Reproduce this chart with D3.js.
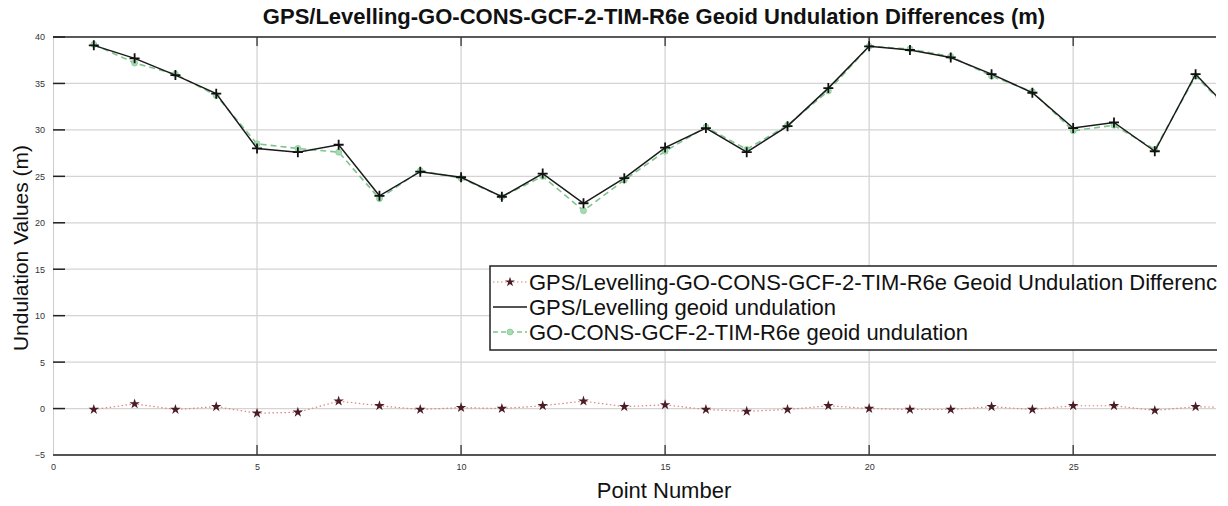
<!DOCTYPE html>
<html>
<head>
<meta charset="utf-8">
<script src="https://cdn.jsdelivr.net/npm/d3@7/dist/d3.min.js"></script>
<style>
  html, body { margin: 0; padding: 0; background: #fff; }
  svg { display: block; font-family: "Liberation Sans", Arial, sans-serif; }
</style>
</head>
<body>
<svg id="chart" width="1228" height="506"></svg>
<script>
// Point numbers along the traverse
const points = d3.range(1, 30);
// GPS/Levelling geoid undulation (m)
const gpsLevelling = [39.1, 37.7, 35.9, 33.9, 28.0, 27.6, 28.4, 22.9, 25.5, 24.9,
                      22.8, 25.3, 22.1, 24.8, 28.1, 30.2, 27.6, 30.4, 34.5, 39.0,
                      38.6, 37.8, 36.0, 34.0, 30.2, 30.8, 27.7, 36.0, 31.4];
// GO-CONS-GCF-2-TIM-R6e geoid undulation (m)
const goconsTim = [39.2, 37.2, 36.0, 33.7, 28.5, 28.0, 27.6, 22.6, 25.6, 24.8,
                   22.8, 25.0, 21.3, 24.6, 27.7, 30.3, 27.9, 30.5, 34.2, 39.0,
                   38.7, 37.9, 35.8, 34.1, 29.9, 30.5, 27.9, 35.8, 31.3];
// Differences GPS/Levelling - GO-CONS-GCF-2-TIM-R6e (m)
const differences = [-0.1, 0.5, -0.1, 0.2, -0.5, -0.4, 0.8, 0.3, -0.1, 0.1,
                     0.0, 0.3, 0.8, 0.2, 0.4, -0.1, -0.3, -0.1, 0.3, 0.0,
                     -0.1, -0.1, 0.2, -0.1, 0.3, 0.3, -0.2, 0.2, 0.1];
const xTicks = [0, 5, 10, 15, 20, 25];
const yTicks = [-5, 0, 5, 10, 15, 20, 25, 30, 35, 40];
const legendLabels = [
  "GPS/Levelling-GO-CONS-GCF-2-TIM-R6e Geoid Undulation Differences (m)",
  "GPS/Levelling geoid undulation",
  "GO-CONS-GCF-2-TIM-R6e geoid undulation"
];
const titleText = "GPS/Levelling-GO-CONS-GCF-2-TIM-R6e Geoid Undulation Differences (m)";

const svg = d3.select("#chart");
const pLeft = 53, pRight = 1216, pTop = 37, pBottom = 455;

const x = d3.scaleLinear().domain([0, 28.5]).range([pLeft, pRight]);
const y = d3.scaleLinear().domain([-5, 40]).range([pBottom, pTop]);

// everything beyond the right edge of the figure is cut away
const defs = svg.append("defs");
defs.append("clipPath").attr("id", "fig")
  .append("rect").attr("x", 0).attr("y", 0).attr("width", pRight + 1).attr("height", 506);
defs.append("clipPath").attr("id", "plot")
  .append("rect").attr("x", pLeft).attr("y", pTop - 4).attr("width", pRight - pLeft).attr("height", pBottom - pTop + 8);

const g = svg.append("g").attr("clip-path", "url(#fig)");

// grid
g.append("g").selectAll("line").data(yTicks.filter(t => t > -5 && t < 40)).join("line")
  .attr("x1", pLeft).attr("x2", pRight)
  .attr("y1", d => y(d)).attr("y2", d => y(d))
  .attr("stroke", "#d4d4d4").attr("stroke-width", 1.3);
g.append("g").selectAll("line").data(xTicks.filter(t => t > 0)).join("line")
  .attr("x1", d => x(d)).attr("x2", d => x(d))
  .attr("y1", pTop).attr("y2", pBottom)
  .attr("stroke", "#d4d4d4").attr("stroke-width", 1.3);

// axes
const yAxis = d3.axisLeft(y).tickValues(yTicks).tickSize(0).tickPadding(8);
const yg = g.append("g").attr("transform", `translate(${pLeft},0)`).call(yAxis);
yg.select(".domain").attr("stroke", "#ccc");
yg.selectAll("text").attr("font-size", 9).attr("fill", "#333");
// inward tick marks on the y axis
g.append("g").selectAll("line").data(yTicks).join("line")
  .attr("x1", pLeft).attr("x2", pLeft + 12)
  .attr("y1", d => y(d)).attr("y2", d => y(d))
  .attr("stroke", "#222").attr("stroke-width", 1.5);

const xAxis = d3.axisBottom(x).tickValues(xTicks).tickSize(0).tickPadding(9);
const xg = g.append("g").attr("transform", `translate(0,${pBottom})`).call(xAxis);
xg.select(".domain").remove();
xg.selectAll("text").attr("font-size", 9).attr("fill", "#333");
g.append("line").attr("x1", pLeft).attr("x2", pRight).attr("y1", pBottom).attr("y2", pBottom)
  .attr("stroke", "#555").attr("stroke-width", 2.2);
g.append("line").attr("x1", pLeft).attr("x2", pRight).attr("y1", pTop).attr("y2", pTop)
  .attr("stroke", "#222").attr("stroke-width", 1.5);
g.append("g").selectAll("line").data(xTicks.filter(t => t > 0)).join("line")
  .attr("x1", d => x(d)).attr("x2", d => x(d)).attr("y1", pTop).attr("y2", pTop + 9)
  .attr("stroke", "#333").attr("stroke-width", 1.3);
g.append("g").selectAll("line").data(xTicks.filter(t => t > 0)).join("line")
  .attr("x1", d => x(d)).attr("x2", d => x(d)).attr("y1", pBottom).attr("y2", pBottom - 10)
  .attr("stroke", "#333").attr("stroke-width", 1.3);

// data
const plot = g.append("g").attr("clip-path", "url(#plot)");
const line = vals => d3.line().x((d, i) => x(points[i])).y(d => y(d))(vals);

// differences
plot.append("path").attr("d", line(differences))
  .attr("fill", "none").attr("stroke", "#e08080").attr("stroke-width", 1.2)
  .attr("stroke-dasharray", "1.5,2.5");
plot.append("g").selectAll("path").data(differences).join("path")
  .attr("transform", (d, i) => `translate(${x(points[i])},${y(d)})`)
  .attr("d", d3.symbol(d3.symbolStar, 34))
  .attr("fill", "#4a1c24");

// GO-CONS model undulation
plot.append("path").attr("d", line(goconsTim))
  .attr("fill", "none").attr("stroke", "#7fc48e").attr("stroke-width", 1.6)
  .attr("stroke-dasharray", "6,4");
plot.append("g").selectAll("circle").data(goconsTim).join("circle")
  .attr("cx", (d, i) => x(points[i])).attr("cy", d => y(d)).attr("r", 3)
  .attr("fill", "#a6dcb0").attr("stroke", "#86c996").attr("stroke-width", 0.8);

// GPS/Levelling undulation
plot.append("path").attr("d", line(gpsLevelling))
  .attr("fill", "none").attr("stroke", "#1a1a1a").attr("stroke-width", 1.5);
const plus = "M-5,0H5M0,-5V5";
plot.append("g").selectAll("path").data(gpsLevelling).join("path")
  .attr("transform", (d, i) => `translate(${x(points[i])},${y(d)})`)
  .attr("d", plus).attr("stroke", "#111").attr("stroke-width", 1.8);

// legend
const lg = g.append("g");
lg.append("rect").attr("x", 490).attr("y", 266).attr("width", 760).attr("height", 84)
  .attr("fill", "#fff").attr("stroke", "#222").attr("stroke-width", 1.5);
const rowY = [282, 307, 332];
lg.selectAll("text").data(legendLabels).join("text")
  .attr("x", 529).attr("y", (d, i) => rowY[i] + 8)
  .attr("font-size", 22).attr("fill", "#111").text(d => d);
// sample marks
lg.append("line").attr("x1", 493).attr("x2", 527).attr("y1", rowY[0]).attr("y2", rowY[0])
  .attr("stroke", "#e08080").attr("stroke-width", 1.2).attr("stroke-dasharray", "1.5,2.5");
lg.append("path").attr("transform", `translate(510,${rowY[0]})`)
  .attr("d", d3.symbol(d3.symbolStar, 30)).attr("fill", "#4a1c24");
lg.append("line").attr("x1", 493).attr("x2", 527).attr("y1", rowY[1]).attr("y2", rowY[1])
  .attr("stroke", "#1a1a1a").attr("stroke-width", 1.5);
lg.append("line").attr("x1", 493).attr("x2", 527).attr("y1", rowY[2]).attr("y2", rowY[2])
  .attr("stroke", "#7fc48e").attr("stroke-width", 1.6).attr("stroke-dasharray", "5,3");
lg.append("circle").attr("cx", 510).attr("cy", rowY[2]).attr("r", 3)
  .attr("fill", "#a6dcb0").attr("stroke", "#86c996").attr("stroke-width", 0.8);

// titles
svg.append("text").attr("x", 654).attr("y", 24).attr("text-anchor", "middle")
  .attr("font-size", 22).attr("font-weight", "bold").attr("fill", "#111").text(titleText);
svg.append("text").attr("x", 664).attr("y", 498).attr("text-anchor", "middle")
  .attr("font-size", 22).attr("fill", "#111").text("Point Number");
svg.append("text").attr("transform", "translate(28,248) rotate(-90)").attr("text-anchor", "middle")
  .attr("font-size", 21).attr("fill", "#111").text("Undulation Values (m)");
</script>
</body>
</html>
